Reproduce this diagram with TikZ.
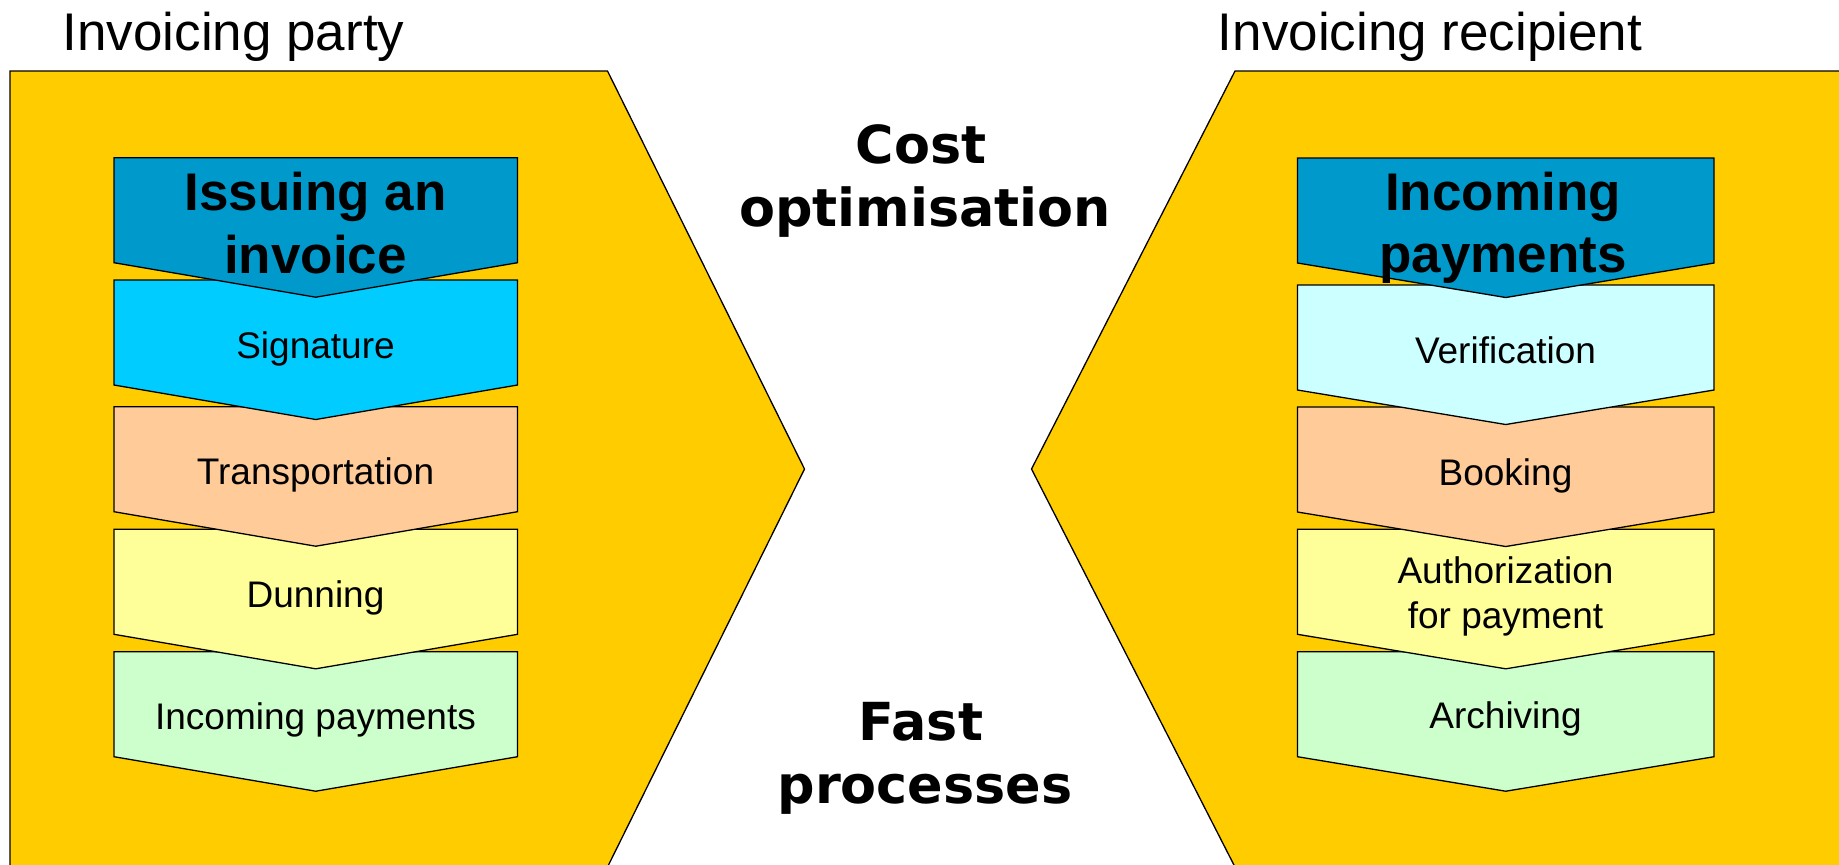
\documentclass[tikz,border=0pt]{standalone}
\usepackage{fontspec}
\setmainfont{Liberation Sans}
\newfontfamily\dejavu{DejaVu Sans}
\definecolor{gold}{HTML}{FFCC00}
\definecolor{cdark}{HTML}{0099CC}
\definecolor{csky}{HTML}{00CCFF}
\definecolor{cpeach}{HTML}{FFCC99}
\definecolor{cyell}{HTML}{FFFF99}
\definecolor{cmint}{HTML}{CCFFCC}
\definecolor{cice}{HTML}{CCFFFF}
\newcommand\chevron[4]{%
  \filldraw[fill=#4, outline] (#1,#3) -- (#2,#3) -- (#2,#3+105) -- ({(#1+#2)/2},#3+139.5) -- (#1,#3+105) -- cycle;}
\begin{document}
\begin{tikzpicture}[x=0.5pt,y=-0.5pt,
  outline/.style={draw=black,line width=0.65pt,line join=miter},
  headtext/.style={inner sep=0pt,anchor=base,font=\fontsize{26.5}{30}\selectfont},
  boldhead/.style={inner sep=0pt,anchor=base,font=\fontsize{26.5}{30}\selectfont\bfseries},
  midtext/.style={inner sep=0pt,anchor=base,font=\dejavu\fontsize{26.2}{30}\selectfont\bfseries},
  boxtext/.style={inner sep=0pt,anchor=base,font=\fontsize{18.5}{22}\selectfont}]
\useasboundingbox (0,0) rectangle (1839,864);
\fill[white] (0,0) rectangle (1839,864);
% big shapes
\filldraw[fill=gold,outline] (10,71) -- (607.5,71) -- (804.5,469) -- (607.5,867) -- (10,867) -- cycle;
\filldraw[fill=gold,outline] (1860,71) -- (1235,71) -- (1031.5,469) -- (1235,867) -- (1860,867) -- cycle;
% left chevrons (bottom first)
\chevron{114}{517.5}{651.7}{cmint}
\chevron{114}{517.5}{529.3}{cyell}
\chevron{114}{517.5}{406.7}{cpeach}
\chevron{114}{517.5}{280}{csky}
\chevron{114}{517.5}{157.7}{cdark}
% right chevrons
\chevron{1297.5}{1714}{651.7}{cmint}
\chevron{1297.5}{1714}{529.3}{cyell}
\chevron{1297.5}{1714}{407}{cpeach}
\chevron{1297.5}{1714}{285}{cice}
\chevron{1297.5}{1714}{158}{cdark}
% titles
\node[headtext] (party) at (233.5,50.7) {Invoicing party};
\node[headtext] (recip) at (1430,50.7) {Invoicing recipient};
% middle
\node[midtext] (cost) at (921,163.3) {Cost};
\node[midtext] (optim) at (925,226.7) {optimisation};
\node[midtext] (fast) at (921,740) {Fast};
\node[midtext] (proc) at (925,803.3) {processes};
% left texts
\node[boldhead] (issue1) at (315.5,210.7) {Issuing an};
\node[boldhead] (issue2) at (315.5,273.3) {invoice};
\node[boxtext] (sig) at (315.5,358.3) {Signature};
\node[boxtext] (trans) at (315.5,484.8) {Transportation};
\node[boxtext] (dun) at (315.5,607.3) {Dunning};
\node[boxtext] (incl) at (315.5,729.5) {Incoming payments};
% right texts
\node[boldhead] (inc1) at (1503,210.7) {Incoming};
\node[boldhead] (inc2) at (1503,272) {payments};
\node[boxtext] (ver) at (1505.5,363) {Verification};
\node[boxtext] (book) at (1505.5,485) {Booking};
\node[boxtext] (auth1) at (1505.5,583.3) {Authorization};
\node[boxtext] (auth2) at (1505.5,628.3) {for payment};
\node[boxtext] (arch) at (1505.5,728.3) {Archiving};
\end{tikzpicture}
\end{document}
